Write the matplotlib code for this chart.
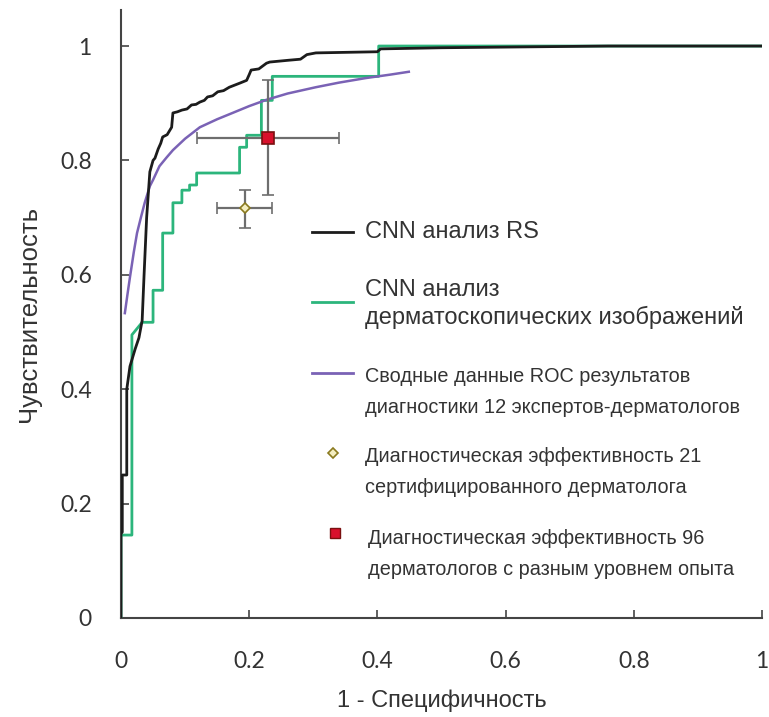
import matplotlib
matplotlib.use("Agg")
import matplotlib.pyplot as plt
from matplotlib.lines import Line2D

# === ROC data ===
rs_fpr = [0, 0, 0.002, 0.002, 0.009, 0.009, 0.014, 0.022, 0.028, 0.033,
          0.036, 0.040, 0.045, 0.050, 0.053, 0.058, 0.062, 0.065, 0.072, 0.079,
          0.081, 0.088, 0.095, 0.103, 0.110, 0.117, 0.123, 0.130, 0.135, 0.143,
          0.151, 0.160, 0.169, 0.185, 0.196, 0.200, 0.203, 0.215, 0.227, 0.232,
          0.260, 0.280, 0.290, 0.304, 0.400, 0.405, 0.500, 0.760, 1.0]
rs_tpr = [0, 0.15, 0.15, 0.25, 0.25, 0.40, 0.44, 0.47, 0.49, 0.52,
          0.60, 0.70, 0.78, 0.80, 0.804, 0.82, 0.83, 0.841, 0.845, 0.858,
          0.883, 0.885, 0.888, 0.89, 0.897, 0.898, 0.902, 0.905, 0.911, 0.913,
          0.92, 0.922, 0.928, 0.935, 0.94, 0.95, 0.958, 0.96, 0.97, 0.972,
          0.975, 0.977, 0.985, 0.988, 0.99, 0.995, 0.997, 1.0, 1.0]

derm_fpr = [0, 0, 0.017, 0.017, 0.033, 0.050, 0.050, 0.065, 0.065, 0.081,
            0.081, 0.095, 0.095, 0.107, 0.107, 0.118, 0.118, 0.185, 0.185, 0.196,
            0.196, 0.219, 0.219, 0.236, 0.236, 0.402, 0.402, 1.0]
derm_tpr = [0, 0.145, 0.145, 0.495, 0.517, 0.517, 0.573, 0.573, 0.673, 0.673,
            0.726, 0.726, 0.748, 0.748, 0.757, 0.757, 0.778, 0.778, 0.823, 0.823,
            0.844, 0.844, 0.905, 0.905, 0.947, 0.947, 1.0, 1.0]

exp_fpr = [0.006, 0.010, 0.014, 0.020, 0.025, 0.031, 0.037, 0.045, 0.050, 0.060,
           0.071, 0.081, 0.100, 0.123, 0.150, 0.174, 0.200, 0.227, 0.260, 0.304,
           0.340, 0.382, 0.420, 0.449]
exp_tpr = [0.533, 0.565, 0.596, 0.640, 0.673, 0.700, 0.726, 0.755, 0.766, 0.790,
           0.805, 0.818, 0.838, 0.858, 0.872, 0.883, 0.895, 0.906, 0.917, 0.928,
           0.936, 0.944, 0.950, 0.955]

# dermatologist operating points: (fpr, tpr, fpr lo, fpr hi, tpr lo, tpr hi)
cert21 = (0.193, 0.717, 0.149, 0.236, 0.682, 0.748)
derm96 = (0.230, 0.840, 0.118, 0.340, 0.740, 0.940)

ticks = [0, 0.2, 0.4, 0.6, 0.8, 1]
tick_labels = ["0", "0.2", "0.4", "0.6", "0.8", "1"]

legend_labels = [
    "CNN анализ RS",
    "CNN анализ\nдерматоскопических изображений",
    "Сводные данные ROC результатов\nдиагностики 12 экспертов-дерматологов",
    "Диагностическая эффективность 21\nсертифицированного дерматолога",
    "Диагностическая эффективность 96\nдерматологов с разным уровнем опыта",
]

BLACK = "#1c1c1c"
GREEN = "#2cb57c"
PURPLE = "#7a62b5"
GREY = "#6e6e6e"
TXT = "#333333"
FONT = ["Liberation Sans", "DejaVu Sans"]

plt.rcParams["font.family"] = FONT

# axes box in reference pixels: x 121..762, y 10..618
X0, X1, Y0, Y1 = 121, 762, 10, 618
fig = plt.figure(figsize=(7.69, 7.17), dpi=100)
ax = fig.add_axes([X0 / 769, (717 - Y1) / 717, (X1 - X0) / 769, (Y1 - Y0) / 717])

ax.plot(rs_fpr, rs_tpr, color=BLACK, lw=2, zorder=4)
ax.plot(derm_fpr, derm_tpr, color=GREEN, lw=2, zorder=3)
ax.plot(exp_fpr, exp_tpr, color=PURPLE, lw=1.8, zorder=3)

for pt, mk, fc, ec, ms in [(cert21, "D", "#f4eec0", "#8a7a1e", 5),
                           (derm96, "s", "#d8102c", "#7a1010", 8)]:
    x, y, xl, xh, yl, yh = pt
    ax.errorbar([x], [y], xerr=[[x - xl], [xh - x]], yerr=[[y - yl], [yh - y]],
                fmt=mk, color=GREY, ecolor=GREY, elinewidth=1.6, capsize=4,
                capthick=1.4, markerfacecolor=fc, markeredgecolor=ec,
                markeredgewidth=1.2, markersize=ms, zorder=5)

ax.set_xlim(0, 1)
ax.set_ylim(0, 1.063)
ax.set_xticks(ticks)
ax.set_xticklabels(tick_labels)
ax.set_yticks(ticks)
ax.set_yticklabels(tick_labels)
ax.tick_params(direction="in", length=6, width=1.2, colors="#444444",
               labelcolor=TXT, labelsize=16.5)
ax.tick_params(axis="x", pad=24)
ax.tick_params(axis="y", pad=21)
for lab in ax.get_xticklabels() + ax.get_yticklabels():
    lab.set_family(["Lato", "DejaVu Sans"])
for s in ["top", "right"]:
    ax.spines[s].set_visible(False)
for s in ["left", "bottom"]:
    ax.spines[s].set_color("#444444")
    ax.spines[s].set_linewidth(1.5)

ax.set_xlabel("1 - Специфичность", fontsize=17, color=TXT, labelpad=12)
ax.set_ylabel("Чувствительность", fontsize=18.5, color=TXT, labelpad=14)

# === Hand-placed legend (pixel positions from the reference) ===
def fx(px):
    return (px - X0) / (X1 - X0)


def fy(py):
    return (Y1 - py) / (Y1 - Y0)


tr = ax.transAxes
ax.add_line(Line2D([fx(312), fx(353)], [fy(232), fy(232)], color=BLACK, lw=2, transform=tr))
ax.add_line(Line2D([fx(312), fx(353)], [fy(302), fy(302)], color=GREEN, lw=2, transform=tr))
ax.add_line(Line2D([fx(312), fx(353)], [fy(373), fy(373)], color=PURPLE, lw=2, transform=tr))
ax.plot([fx(333)], [fy(453)], marker="D", ms=5, mfc="#f4eec0", mec="#8a7a1e",
        mew=1.2, transform=tr, clip_on=False)
ax.plot([fx(335)], [fy(533)], marker="s", ms=7, mfc="#d8102c", mec="#7a1010",
        mew=1.0, transform=tr, clip_on=False)

text_pos = [(365, 232, 17, 1.25), (365, 304, 17, 1.25), (365, 392, 14.3, 1.85),
            (365, 472, 14.3, 1.85), (368, 554, 14.3, 1.75)]
for label, (px, py, size, ls) in zip(legend_labels, text_pos):
    ax.text(fx(px), fy(py), label, transform=tr, fontsize=size, color=TXT,
            ha="left", va="center", linespacing=ls)

fig.savefig("out.png", dpi=100)
